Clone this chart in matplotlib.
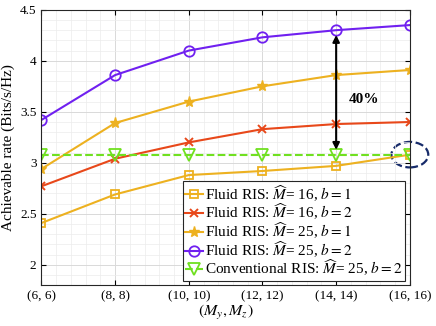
import matplotlib.pyplot as plt
from matplotlib.ticker import MultipleLocator
from matplotlib.patches import Ellipse

plt.rcParams['font.family'] = ['Liberation Serif', 'DejaVu Serif']
plt.rcParams['mathtext.fontset'] = 'stix'

# data
x = [6, 8, 10, 12, 14, 16]
xticklabels = ['(6, 6)', '(8, 8)', '(10, 10)', '(12, 12)', '(14, 14)', '(16, 16)']
fluid_16_b1 = [2.41, 2.69, 2.88, 2.92, 2.97, 3.08]
fluid_16_b2 = [2.77, 3.04, 3.20, 3.33, 3.38, 3.40]
fluid_25_b1 = [2.94, 3.39, 3.60, 3.75, 3.86, 3.91]
fluid_25_b2 = [3.42, 3.86, 4.10, 4.23, 4.30, 4.35]
conventional = [3.08, 3.08, 3.08, 3.08, 3.08, 3.08]

orange = '#EDB120'
red = '#E8481A'
purple = '#7020F0'
green = '#70E020'

fig, ax = plt.subplots(figsize=(4.36, 3.26), dpi=100)
fig.subplots_adjust(left=0.095, right=0.94, top=0.97, bottom=0.125)

ax.plot(x, fluid_16_b1, '-s', color=orange, mfc='none', ms=6, lw=1.5, mew=1.3,
        label=r'Fluid RIS: $\widehat{M}$= 16, $b=1$')
ax.plot(x, fluid_16_b2, '-x', color=red, ms=6, lw=1.5, mew=1.4,
        label=r'Fluid RIS: $\widehat{M}$= 16, $b=2$')
ax.plot(x, fluid_25_b1, '-*', color=orange, ms=8, lw=1.5,
        label=r'Fluid RIS: $\widehat{M}$= 25, $b=1$')
ax.plot(x, fluid_25_b2, '-o', color=purple, mfc='none', ms=7.5, lw=1.5, mew=1.3,
        label=r'Fluid RIS: $\widehat{M}$= 25, $b=2$')
ax.plot(x, conventional, '--v', color=green, mfc='none', ms=8.5, lw=1.5, mew=1.3,
        label=r'Conventional RIS: $\widehat{M}$= 25, $b=2$')

# gap arrow
ax.annotate('', xy=(14, fluid_25_b2[4] - 0.02), xytext=(14, conventional[4] + 0.02),
            arrowprops=dict(arrowstyle='<|-|>', color='black', lw=1.5,
                            mutation_scale=10))
ax.text(14.75, 3.62, '40%', fontsize=11, fontweight='bold', ha='center', va='center')

ell = Ellipse((16, conventional[5]), 1.0, 0.25, fill=False, ls='--',
              color='#172B6A', lw=1.6, clip_on=False)
ax.add_patch(ell)

ax.set_xlim(6, 16)
ax.set_ylim(1.8, 4.5)
ax.set_xticks(x)
ax.set_xticklabels(xticklabels)
ax.set_yticks([2, 2.5, 3, 3.5, 4, 4.5])
ax.set_yticklabels(['2', '2.5', '3', '3.5', '4', '4.5'])
ax.xaxis.set_minor_locator(MultipleLocator(0.4))
ax.yaxis.set_minor_locator(MultipleLocator(0.1))
ax.grid(which='major', color='#d9d9d9', lw=0.7)
ax.grid(which='minor', color='#ececec', lw=0.5)
ax.tick_params(which='both', direction='in', top=True, right=True, labelsize=9.5)
ax.tick_params(which='minor', length=0)
ax.set_xlabel(r'$(M_y, M_z)$', fontsize=11.5, labelpad=1)
ax.set_ylabel('Achievable rate (Bits/s/Hz)', fontsize=11)
for s in ax.spines.values():
    s.set_color('#262626')

leg = ax.legend(loc='lower right', fontsize=11, handlelength=1.2, handletextpad=0.15,
                borderpad=0.15, labelspacing=-0.12, fancybox=False, framealpha=1,
                borderaxespad=0.3)
leg.get_frame().set_edgecolor('#262626')
leg.get_frame().set_linewidth(0.8)

fig.savefig('out.png', dpi=100)
